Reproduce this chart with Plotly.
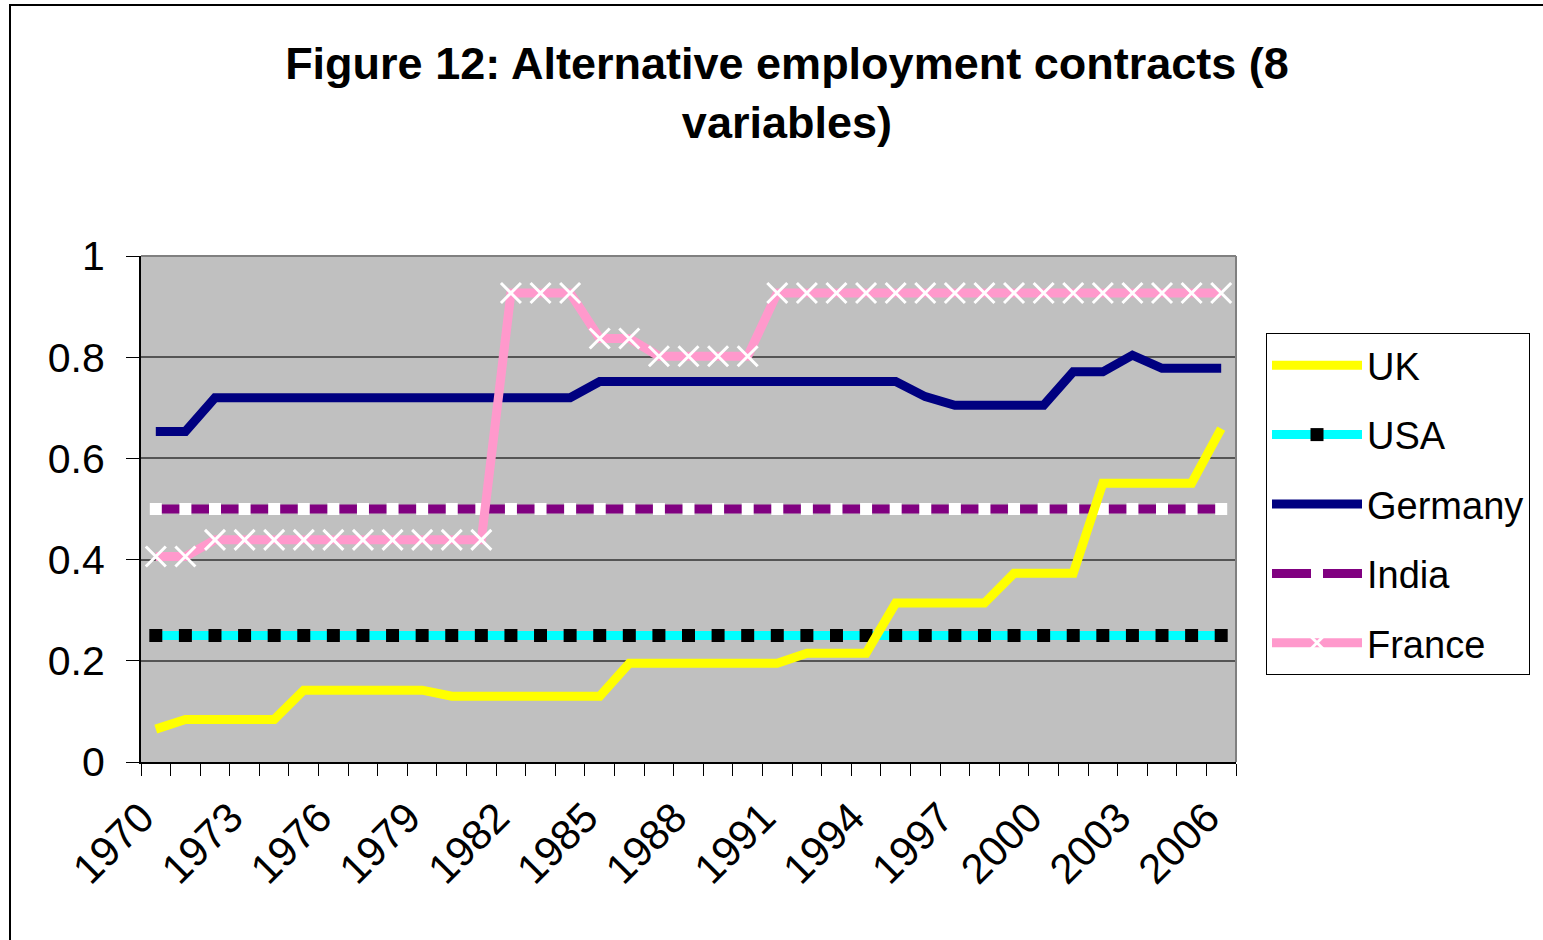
import plotly.graph_objects as go

years = list(range(1970, 2007))

uk = [0.065] + [0.084] * 4 + [0.142] * 5 + [0.13] * 6 + [0.195] * 6 + [0.215] * 3 + [0.314] * 4 + [0.373] * 3 + [0.551] * 4 + [0.659]
usa = [0.25] * 37
germany = [0.653] * 2 + [0.72] * 13 + [0.752] * 11 + [0.722] + [0.705] * 4 + [0.771] * 2 + [0.804] + [0.778] * 3
india = [0.5] * 37
france = [0.406] * 2 + [0.439] * 10 + [0.927] * 3 + [0.837] * 2 + [0.802] * 4 + [0.927] * 16

tick_years = years[::3]
y_ticks = [0, 0.2, 0.4, 0.6, 0.8, 1]
y_tick_text = ["0", "0.2", "0.4", "0.6", "0.8", "1"]

FONT = "Liberation Sans, Arial, sans-serif"
LW = 9

fig = go.Figure()

fig.add_trace(go.Scatter(
    x=years, y=india, name="India", mode="lines+markers", legendrank=4, legendgroup="india",
    line=dict(color="#800080", width=LW),
    marker=dict(symbol="square", size=12, color="white", line=dict(width=0)),
))
fig.add_trace(go.Scatter(
    x=years, y=usa, name="USA", mode="lines+markers", legendrank=2, legendgroup="usa",
    line=dict(color="#00FFFF", width=LW),
    marker=dict(symbol="square", size=13, color="black", line=dict(width=0)),
))
fig.add_trace(go.Scatter(
    x=years, y=germany, name="Germany", mode="lines", legendrank=3, legendgroup="germany",
    line=dict(color="#000080", width=LW),
))
fig.add_trace(go.Scatter(
    x=years, y=uk, name="UK", mode="lines", legendrank=1, legendgroup="uk",
    line=dict(color="#FFFF00", width=LW),
))
fig.add_trace(go.Scatter(
    x=years, y=france, name="France", mode="lines+markers", legendrank=5, legendgroup="france",
    line=dict(color="#FF99CC", width=LW),
    marker=dict(symbol="x-thin", size=20, color="white", line=dict(width=3, color="white")),
))

fig.update_layout(
    width=1543, height=940,
    margin=dict(l=141, r=307, t=256, b=178),
    paper_bgcolor="white",
    plot_bgcolor="#C0C0C0",
    font=dict(family=FONT, size=38, color="black"),
    title=dict(
        text="<b>Figure 12: Alternative employment contracts (8<br>variables)</b>",
        font=dict(family=FONT, size=45, color="black"),
        x=0.51, xref="container", xanchor="center",
        y=1 - 79 / 940, yref="container", yanchor="top",
    ),
    showlegend=True,
    legend=dict(
        x=(1266 - 141) / 1095, xanchor="left",
        y=(762 - 333) / 506, yanchor="top",
        bordercolor="black", borderwidth=1,
        bgcolor="white",
        font=dict(family=FONT, size=38, color="black"),
        tracegroupgap=17,
        itemwidth=90,
    ),
    xaxis=dict(
        range=[1969.5, 2006.5],
        tickmode="array", tickvals=tick_years, ticktext=[str(y) for y in tick_years],
        tickangle=-45,
        ticks="outside", ticklen=12, tickcolor="rgba(0,0,0,0)",
        ticklabelshift=-14,
        minor=dict(ticks="outside", tick0=1969.5, dtick=1, ticklen=12, tickwidth=1,
                   tickcolor="black", showgrid=False),
        showgrid=False, zeroline=False,
        showline=True, linecolor="black", linewidth=2,
        tickfont=dict(family=FONT, size=42, color="black"),
    ),
    yaxis=dict(
        range=[0, 1],
        tickmode="array", tickvals=y_ticks, ticktext=y_tick_text,
        ticks="outside", ticklen=13, tickwidth=1, tickcolor="black",
        showgrid=True, gridcolor="#555555", gridwidth=1.5,
        zeroline=False,
        showline=True, linecolor="black", linewidth=2,
        tickfont=dict(family=FONT, size=41, color="black"),
        ticklabelstandoff=13,
    ),
    shapes=[
        dict(type="line", xref="paper", yref="paper", x0=0, x1=1, y0=1, y1=1,
             line=dict(color="#808080", width=2), layer="above"),
        dict(type="line", xref="paper", yref="paper", x0=1, x1=1, y0=0, y1=1,
             line=dict(color="#808080", width=2), layer="above"),
        dict(type="rect", xref="paper", yref="paper",
             x0=(10 - 141) / 1095, x1=(1560 - 141) / 1095,
             y0=(762 - 960) / 506, y1=(762 - 5) / 506,
             line=dict(color="black", width=2), fillcolor="rgba(0,0,0,0)", layer="above"),
    ],
)

fig.write_html(
    "out.html",
    config={"displayModeBar": False},
    post_script="document.body.style.margin='0';document.body.style.overflow='hidden';",
)
